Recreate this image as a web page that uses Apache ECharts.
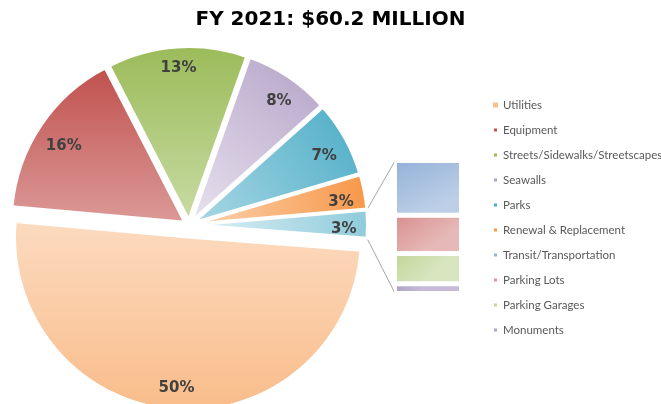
<!DOCTYPE html>
<html>
<head>
<meta charset="utf-8">
<script src="https://cdn.jsdelivr.net/npm/echarts@6/dist/echarts.min.js"></script>
<style>
  html, body { margin: 0; padding: 0; background: #fff; }
  #chart { width: 661px; height: 404px; }
</style>
</head>
<body>
<div id="chart"></div>
<script>
// FY 2021 capital budget: share of the $60.2M total, in percent
const pieCategories = ['Utilities', 'Equipment', 'Streets/Sidewalks/Streetscapes', 'Seawalls', 'Parks', 'Renewal & Replacement'];
const pieValues = [50.2, 16, 13, 8, 7, 3.2];

// The small categories, grouped into one slice and broken out in the stacked bar
const otherCategories = ['Transit/Transportation', 'Parking Lots', 'Parking Garages', 'Monuments'];
const otherValues = [1.07, 0.75, 0.59, 0.19];

const titleText = 'FY 2021: $60.2 MILLION';

// ---- styles ----
const pieStops = [
  ['#FCDBC0', '#F9BC89'],
  ['#C0504D', '#DB9A98'],
  ['#9BBB59', '#C8DBA3'],
  ['#B3A2C7', '#E8E2EE'],
  ['#4BACC6', '#AAD8E5'],
  ['#F79646', '#FBD2B0'],
  ['#8ECBDB', '#DFF0F5']
];
const pieDirs = [
  [0, 0, 0, 1],
  [0, 0, 0, 1],
  [0, 0, 0, 1],
  [1, 0, 0, 1],
  [1, 0, 0, 1],
  [1, 0, 0, 0.6],
  [1, 0, 0, 0]
];
const barStops = [
  ['#93B1D7', '#BCCFE7'],
  ['#D78F8D', '#E6B8B7'],
  ['#C2D699', '#D8E5BF'],
  ['#B1A0C6', '#C7BBD8']
];
const legendColors = ['#FAC090', '#C0504D', '#9BBB59', '#B3A2C7', '#4BACC6', '#F79646',
                      '#95B3D7', '#D99694', '#C3D69B', '#B3A2C7'];
// small per-label nudges (px) so each label sits snugly inside its slice rim
const labelNudge = [[1, 1], [4, 8], [0, -1], [3, 5], [-1, 7], [-1, 6], [-1, 5]];

const pieCenter = [189, 225];
const pieRadius = 173.5;
const labelRing = [122, 173.5];   // labels sit at the middle of this ring
const pieStart = 355.6;
const sliceGap = 5;               // every slice pulled out a little
const bigGap = 12;                // the largest slice pulled out further
const borderW = 3;

const otherTotal = otherValues.reduce((a, b) => a + b, 0);
const sliceNames = pieCategories.concat(['Other']);
const sliceValues = pieValues.concat([otherTotal]);

function grad(stops, dir) {
  return new echarts.graphic.LinearGradient(dir[0], dir[1], dir[2], dir[3], [
    { offset: 0, color: stops[0] },
    { offset: 1, color: stops[1] }
  ]);
}

const hidden = { color: 'rgba(0,0,0,0)', borderWidth: 0 };

// sector series; `pick` decides which slices are painted in this layer
function sliceSeries(pick, offset) {
  return {
    type: 'pie',
    center: pieCenter,
    radius: [0, pieRadius],
    startAngle: pieStart,
    selectedMode: 'multiple',
    selectedOffset: offset,
    silent: true,
    emphasis: { disabled: true },
    label: { show: false },
    labelLine: { show: false },
    data: sliceNames.map((n, i) => ({
      name: n,
      value: sliceValues[i],
      selected: true,
      itemStyle: pick(i)
        ? { color: grad(pieStops[i], pieDirs[i]), borderColor: '#fff', borderWidth: borderW }
        : hidden
    }))
  };
}

// transparent ring carrying the percent labels
function labelSeries(pick, offset) {
  return {
    type: 'pie',
    center: pieCenter,
    radius: labelRing,
    startAngle: pieStart,
    selectedMode: 'multiple',
    selectedOffset: offset,
    silent: true,
    emphasis: { disabled: true },
    itemStyle: hidden,
    labelLine: { show: false },
    label: {
      position: 'inside',
      formatter: p => Math.round(p.percent) + '%',
      fontFamily: 'DejaVu Sans',
      fontWeight: 'bold',
      fontSize: 15,
      color: '#404040'
    },
    labelLayout: p => ({ dx: labelNudge[p.dataIndex][0], dy: labelNudge[p.dataIndex][1] }),
    data: sliceNames.map((n, i) => ({
      name: n,
      value: sliceValues[i],
      selected: true,
      label: { show: pick(i) }
    }))
  };
}

// stacked bar: bottom segment first
const barSeries = otherCategories.map((n, i) => ({ n, i })).reverse().map(({ n, i }) => ({
  type: 'bar',
  name: n,
  stack: 'other',
  barWidth: '100%',
  silent: true,
  data: [otherValues[i]],
  itemStyle: {
    color: grad(barStops[i], [0, 0, 0.4, 1]),
    borderColor: '#fff',
    borderWidth: 2.5
  }
}));

const legendNames = pieCategories.concat(otherCategories);

const chart = echarts.init(document.getElementById('chart'), null, { renderer: 'canvas' });

chart.setOption({
  animation: false,
  backgroundColor: '#fff',
  title: {
    text: titleText,
    left: 'center',
    top: 10,
    padding: 0,
    textStyle: { fontFamily: 'DejaVu Sans', fontWeight: 'bold', fontSize: 20, color: '#000' }
  },
  legend: {
    orient: 'vertical',
    left: 487,
    top: 93,
    icon: 'rect',
    itemWidth: 5,
    itemHeight: 5,
    itemGap: 11,
    selectedMode: false,
    textStyle: { fontFamily: 'Lato', fontSize: 11.5, color: '#595959', lineHeight: 14 },
    data: legendNames.map((n, i) => ({ name: n, itemStyle: { color: legendColors[i] } }))
  },
  grid: { left: 394.5, top: 160.5, width: 67, height: 133 },
  xAxis: { type: 'category', data: ['Other'], show: false },
  yAxis: { type: 'value', min: 0, max: otherTotal, show: false },
  series: [
    sliceSeries(i => i !== 0, sliceGap),
    sliceSeries(i => i === 0, bigGap),
    labelSeries(i => i !== 0, sliceGap),
    labelSeries(i => i === 0, bigGap)
  ].concat(barSeries)
});

// connector lines from the grouped slice to the bar
(function () {
  const total = sliceValues.reduce((a, b) => a + b, 0);
  const span = 360 * otherTotal / total;
  const mid = (pieStart + span / 2) * Math.PI / 180;
  const ox = pieCenter[0] + sliceGap * Math.cos(mid);
  const oy = pieCenter[1] - sliceGap * Math.sin(mid);
  const aLow = pieStart * Math.PI / 180;
  const aHigh = (pieStart + span) * Math.PI / 180;
  const p1 = [ox + pieRadius * Math.cos(aHigh), oy - pieRadius * Math.sin(aHigh)];
  const p2 = [ox + pieRadius * Math.cos(aLow), oy - pieRadius * Math.sin(aLow)];
  const topPt = chart.convertToPixel({ gridIndex: 0 }, [0, otherTotal]);
  const botPt = chart.convertToPixel({ gridIndex: 0 }, [0, 0]);
  const barLeft = chart.getModel().getComponent('grid').coordinateSystem.getRect().x;
  chart.setOption({
    graphic: [
      { type: 'line', silent: true, shape: { x1: p1[0], y1: p1[1], x2: barLeft, y2: topPt[1] + 1.25 },
        style: { stroke: '#A6A6A6', lineWidth: 1 } },
      { type: 'line', silent: true, shape: { x1: p2[0], y1: p2[1], x2: barLeft, y2: botPt[1] - 1.25 },
        style: { stroke: '#A6A6A6', lineWidth: 1 } }
    ]
  });
})();
</script>
</body>
</html>
